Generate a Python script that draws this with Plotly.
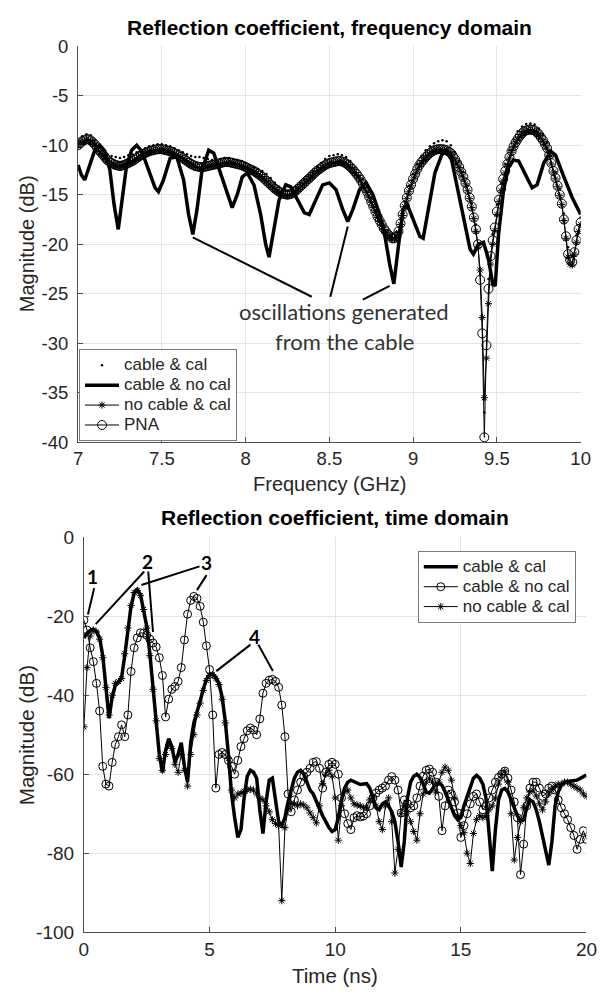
import numpy as np
import plotly.graph_objects as go

# ---------------- frequency domain (top panel) ----------------
# sweep grids (GHz): fine grid for the calibrated sweeps, coarse one for the dotted run
freq = np.round(np.linspace(7.0, 10.0, 241), 4)
freq_dots = np.round(np.linspace(7.0, 10.0, 121), 3)

fd_cable_cal = [
    -9.6, -9.1, -8.9, -9.0, -9.5, -10.0, -10.5, -10.9, -11.1, -11.2,
    -11.3, -11.2, -11.0, -10.9, -10.7, -10.5, -10.3, -10.1, -10.0, -9.9,
    -9.9, -10.0, -10.1, -10.3, -10.5, -10.7, -10.9, -11.1, -11.2, -11.2,
    -11.3, -11.4, -11.5, -11.5, -11.4, -11.3, -11.3, -11.4, -11.5, -11.6,
    -11.8, -12.0, -12.2, -12.4, -12.6, -12.9, -13.3, -13.8, -14.2, -14.5,
    -14.6, -14.5, -14.2, -13.8, -13.4, -13.0, -12.6, -12.2, -11.8, -11.4,
    -11.1, -11.0, -10.9, -11.0, -11.2, -11.6, -12.3, -13.1, -13.4, -14.8,
    -15.3, -16.6, -17.2, -18.1, -18.6, -19.0, -18.8, -17.5, -15.7, -14.1,
    -12.9, -11.9, -11.1, -10.5, -10.1, -9.8, -9.6, -9.5, -9.6, -10.0,
    -10.7, -11.6, -12.7, -14.1, -15.9, -18.0, -23.0, -37.0, -23.5, -19.0,
    -16.0, -13.8, -11.9, -10.5, -9.4, -8.6, -8.1, -7.85, -7.8, -7.9,
    -8.3, -8.9, -9.7, -11.1, -12.7, -14.4, -16.9, -20.3, -21.2, -19.1,
    -17.3,
]

fd_nocable_cal = [
    -10.1, -9.9, -9.7, -9.6, -9.5, -9.5, -9.6, -9.8, -10.0, -10.3,
    -10.6, -10.85, -11.1, -11.35, -11.6, -11.75, -11.9, -12.0, -12.1, -12.15,
    -12.2, -12.15, -12.1, -12.0, -11.9, -11.8, -11.7, -11.55, -11.4, -11.25,
    -11.1, -11.0, -10.9, -10.8, -10.7, -10.65, -10.6, -10.55, -10.5, -10.5,
    -10.5, -10.55, -10.6, -10.65, -10.7, -10.8, -10.9, -11.0, -11.1, -11.25,
    -11.4, -11.55, -11.7, -11.85, -12.0, -12.1, -12.2, -12.25, -12.3, -12.3,
    -12.3, -12.25, -12.2, -12.15, -12.1, -12.05, -12.0, -11.95, -11.9, -11.85,
    -11.8, -11.8, -11.8, -11.85, -11.9, -11.95, -12.0, -12.05, -12.1, -12.2,
    -12.3, -12.4, -12.5, -12.6, -12.7, -12.85, -13.0, -13.15, -13.3, -13.5,
    -13.7, -13.9, -14.1, -14.3, -14.5, -14.65, -14.8, -14.9, -15.0, -15.05,
    -15.1, -15.05, -15.0, -14.85, -14.7, -14.5, -14.3, -14.1, -13.9, -13.7,
    -13.5, -13.3, -13.1, -12.9, -12.7, -12.55, -12.4, -12.25, -12.1, -12.0,
    -11.9, -11.85, -11.8, -11.75, -11.7, -11.7, -11.75, -11.8, -11.95, -12.1,
    -12.3, -12.5, -12.75, -13.0, -13.3, -13.6, -14.0, -14.4, -14.8, -15.3,
    -15.8, -16.3, -16.8, -17.3, -17.7, -18.1, -18.5, -18.8, -19.1, -19.3,
    -19.5, -19.5, -19.3, -18.8, -18.0, -17.1, -16.2, -15.4, -14.7, -14.1,
    -13.5, -13.0, -12.5, -12.1, -11.8, -11.55, -11.3, -11.1, -10.9, -10.75,
    -10.6, -10.55, -10.5, -10.5, -10.5, -10.55, -10.6, -10.75, -10.9, -11.2,
    -11.5, -11.9, -12.3, -12.8, -13.3, -13.9, -14.6, -15.4, -16.3, -17.4,
    -18.7, -20.3, -22.6, -27.4, -35.5, -31.5, -26.0, -22.0, -20.0, -18.6,
    -17.0, -15.7, -14.6, -13.6, -12.8, -12.0, -11.3, -10.7, -10.2, -9.8,
    -9.45, -9.15, -8.9, -8.7, -8.6, -8.55, -8.5, -8.55, -8.6, -8.8,
    -9.0, -9.3, -9.6, -10.0, -10.4, -11.1, -11.9, -12.7, -13.4, -14.2,
    -15.1, -16.0, -17.6, -19.4, -21.3, -22.0, -22.1, -21.0, -19.8, -18.7,
    -18.0,
]

fd_pna = [
    -10.0, -9.8, -9.6, -9.5, -9.4, -9.4, -9.5, -9.7, -9.9, -10.2,
    -10.5, -10.75, -11.0, -11.25, -11.5, -11.65, -11.8, -11.9, -12.0, -12.05,
    -12.1, -12.05, -12.0, -11.9, -11.8, -11.7, -11.6, -11.45, -11.3, -11.15,
    -11.0, -10.9, -10.8, -10.7, -10.6, -10.55, -10.5, -10.45, -10.4, -10.4,
    -10.4, -10.45, -10.5, -10.55, -10.6, -10.7, -10.8, -10.9, -11.0, -11.15,
    -11.3, -11.45, -11.6, -11.75, -11.9, -12.0, -12.1, -12.15, -12.2, -12.2,
    -12.2, -12.15, -12.1, -12.05, -12.0, -11.95, -11.9, -11.85, -11.8, -11.75,
    -11.7, -11.7, -11.7, -11.75, -11.8, -11.85, -11.9, -11.95, -12.0, -12.1,
    -12.2, -12.3, -12.4, -12.5, -12.6, -12.75, -12.9, -13.05, -13.2, -13.4,
    -13.6, -13.8, -14.0, -14.2, -14.4, -14.55, -14.7, -14.8, -14.9, -14.95,
    -15.0, -14.95, -14.9, -14.75, -14.6, -14.4, -14.2, -14.0, -13.8, -13.6,
    -13.4, -13.2, -13.0, -12.8, -12.6, -12.45, -12.3, -12.15, -12.0, -11.9,
    -11.8, -11.75, -11.7, -11.65, -11.6, -11.6, -11.65, -11.7, -11.85, -12.0,
    -12.2, -12.4, -12.65, -12.9, -13.2, -13.5, -13.9, -14.3, -14.7, -15.2,
    -15.7, -16.2, -16.7, -17.2, -17.6, -18.0, -18.4, -18.7, -19.0, -19.2,
    -19.4, -19.4, -19.2, -18.7, -17.9, -17.0, -16.1, -15.3, -14.6, -14.0,
    -13.4, -12.9, -12.4, -12.0, -11.7, -11.45, -11.2, -11.0, -10.8, -10.65,
    -10.5, -10.45, -10.4, -10.4, -10.4, -10.45, -10.5, -10.65, -10.8, -11.1,
    -11.4, -11.8, -12.2, -12.7, -13.2, -13.8, -14.5, -15.3, -16.2, -17.3,
    -18.5, -20.0, -23.6, -29.0, -39.5, -30.2, -24.5, -21.2, -19.6, -18.3,
    -16.7, -15.5, -14.4, -13.4, -12.6, -11.9, -11.2, -10.6, -10.1, -9.7,
    -9.35, -9.05, -8.8, -8.6, -8.5, -8.45, -8.4, -8.45, -8.5, -8.7,
    -8.9, -9.2, -9.5, -9.9, -10.3, -11.0, -11.8, -12.6, -13.3, -14.1,
    -15.0, -15.9, -17.5, -19.2, -21.0, -21.6, -21.8, -20.8, -19.6, -18.5,
    -17.8,
]

# uncalibrated cable response, sampled at its turning points
f_nocal = [
    7.000, 7.020, 7.040, 7.070, 7.100, 7.130, 7.160, 7.190, 7.215, 7.240,
    7.265, 7.290, 7.320, 7.350, 7.380, 7.420, 7.460, 7.480, 7.510, 7.550,
    7.590, 7.630, 7.660, 7.685, 7.710, 7.740, 7.780, 7.810, 7.850, 7.890,
    7.920, 7.950, 7.980, 8.010, 8.050, 8.090, 8.120, 8.140, 8.165, 8.200,
    8.240, 8.270, 8.310, 8.350, 8.380, 8.420, 8.460, 8.500, 8.540, 8.580,
    8.610, 8.640, 8.680, 8.720, 8.760, 8.800, 8.830, 8.860, 8.885, 8.910,
    8.940, 8.965, 9.000, 9.040, 9.060, 9.090, 9.130, 9.170, 9.200, 9.230,
    9.260, 9.300, 9.340, 9.360, 9.390, 9.420, 9.450, 9.475, 9.490, 9.510,
    9.540, 9.570, 9.600, 9.630, 9.670, 9.710, 9.740, 9.780, 9.820, 9.850,
    9.900, 9.950, 10.000,
]
fd_cable_nocal = [
    -12.0, -13.0, -13.5, -12.0, -10.5, -10.0, -10.6, -12.5, -16.0, -18.5,
    -15.5, -12.0, -10.5, -10.0, -10.6, -12.5, -14.3, -14.7, -13.5, -11.3,
    -11.2, -13.5, -17.0, -19.0, -16.5, -12.5, -10.5, -10.8, -12.8, -15.0,
    -16.3, -15.0, -13.2, -12.8, -14.0, -17.0, -20.0, -21.3, -19.0, -15.5,
    -14.0, -14.2, -15.5, -16.8, -17.0, -15.5, -14.0, -13.8, -14.5, -16.5,
    -17.7, -16.5, -14.5, -13.8, -15.0, -17.0, -19.0, -22.0, -24.0, -20.5,
    -16.5, -16.0, -17.5, -19.2, -19.4, -16.5, -12.8, -11.0, -10.5, -11.5,
    -14.0, -17.5, -20.5, -21.0, -20.0, -19.8, -21.5, -24.0, -24.2, -19.0,
    -14.5, -12.2, -11.5, -11.6, -13.0, -14.3, -14.0, -11.8, -10.6, -11.0,
    -13.2, -15.3, -17.0,
]

# ---------------- time domain (bottom panel) ----------------
time_ns = np.round(np.linspace(0.0, 20.0, 161), 3)

td_cable_cal = [
    -25.5, -24.3, -23.6, -23.3, -23.8, -25.5, -30.0, -37.5, -45.8, -40.5,
    -37.5, -36.8, -35.5, -30.0, -23.5, -17.5, -14.2, -13.3, -14.5, -18.0,
    -22.5, -29.5, -38.0, -46.0, -55.0, -59.5, -54.0, -51.0, -53.0, -57.0,
    -55.0, -52.0, -58.0, -62.0, -52.0, -47.0, -44.5, -41.5, -38.5, -36.0,
    -34.8, -34.6, -35.5, -37.0, -40.5, -46.5, -55.0, -65.0, -71.0, -76.0,
    -74.0, -66.0, -60.5, -59.0, -59.5, -61.0, -69.0, -75.0, -67.0, -61.5,
    -61.0, -66.0, -72.0, -73.0, -71.0, -67.0, -63.5, -61.0, -59.5, -59.0,
    -60.0, -62.0, -64.0, -65.0, -67.0, -69.0, -70.5, -72.0, -73.5, -74.5,
    -74.0, -71.0, -66.5, -63.5, -62.0, -61.5, -61.8, -62.3, -62.6, -62.5,
    -62.4, -63.5, -66.0, -68.5, -69.0, -67.5, -67.0, -68.0, -69.5, -72.0,
    -77.0, -83.5, -77.0, -66.0, -62.0, -60.5, -60.0, -60.8, -62.5, -64.5,
    -64.8, -63.5, -62.5, -62.2, -62.8, -64.5, -66.5, -68.5, -70.5, -71.5,
    -71.0, -68.0, -65.5, -63.0, -61.0, -60.3, -61.0, -62.5, -66.0, -75.0,
    -84.5, -74.0, -66.5, -64.0, -63.6, -64.5, -66.5, -68.5, -70.5, -71.8,
    -71.5, -68.5, -66.5, -67.0, -69.0, -72.0, -76.0, -80.0, -83.0, -77.0,
    -68.0, -64.5, -62.8, -62.0, -61.8, -61.6, -61.6, -61.5, -61.0, -60.5,
    -60.2,
]

td_cable_nocal = [
    -21.0, -23.5, -28.0, -31.5, -37.0, -44.0, -58.0, -62.5, -63.0, -57.0,
    -52.5, -50.5, -47.5, -50.5, -45.0, -34.0, -28.0, -25.5, -24.2, -24.3,
    -24.8, -25.8, -26.8, -27.8, -30.5, -35.0, -45.5, -41.0, -38.5, -37.8,
    -36.5, -33.0, -26.0, -19.5, -16.0, -15.0, -15.5, -17.5, -21.5, -27.5,
    -33.5, -45.0, -63.5, -55.0, -54.5, -55.0, -56.5, -58.0, -60.0, -56.5,
    -53.0, -51.0, -49.0, -48.3, -48.8, -50.0, -46.0, -39.5, -37.0, -36.2,
    -36.0, -36.5, -38.0, -42.5, -50.5, -65.0, -69.5, -66.5, -64.0, -62.0,
    -60.5, -59.5, -58.5, -57.0, -56.8, -58.5, -63.5, -59.5, -57.5, -57.0,
    -57.5, -60.0, -66.0, -70.0, -72.5, -74.0, -71.0, -70.5, -70.8, -70.6,
    -70.0, -68.0, -66.0, -64.8, -64.0, -63.5, -63.0, -61.5, -60.6, -61.5,
    -64.0, -69.8, -66.5, -67.5, -68.5, -68.0, -66.0, -63.0, -60.5, -59.0,
    -58.7, -59.5, -62.0, -65.6, -74.3, -68.0, -64.0, -65.0, -67.0, -69.8,
    -76.0, -73.0, -70.0, -67.5, -65.6, -65.0, -67.0, -69.0, -68.0, -66.0,
    -64.0, -62.0, -60.8, -60.0, -59.2, -61.0, -64.0, -67.0, -71.0, -85.4,
    -77.7, -68.0, -63.5, -62.0, -62.0, -63.5, -65.6, -65.0, -63.5, -63.0,
    -64.0, -66.5, -68.5, -70.0, -71.5, -73.5, -75.5, -79.0, -76.5, -74.3,
    -76.5,
]

td_nocable_cal = [
    -48.0, -33.0, -25.0, -23.5, -24.0, -25.8, -30.5, -38.0, -45.0, -40.0,
    -37.0, -36.5, -35.8, -29.5, -23.0, -17.3, -14.0, -13.5, -14.8, -18.3,
    -23.0, -30.0, -38.5, -46.5, -56.0, -59.0, -55.0, -52.5, -53.5, -57.5,
    -59.5, -55.0, -59.0, -63.0, -55.0, -50.0, -45.0, -42.0, -38.8, -36.3,
    -35.0, -34.8, -35.8, -37.3, -41.0, -47.0, -56.0, -64.0, -66.0, -65.0,
    -64.8, -64.3, -64.0, -63.8, -64.0, -65.0, -66.0, -66.5, -68.0, -69.5,
    -71.5, -72.5, -73.0, -92.0, -73.5, -69.0, -67.3, -67.5, -68.0, -67.5,
    -67.8, -68.5, -69.8, -71.0, -72.3, -68.0, -62.4, -60.0, -59.0, -60.5,
    -66.0, -76.7, -68.0, -64.5, -64.0, -66.0, -67.5, -67.8, -68.0, -68.5,
    -68.5, -66.5, -65.5, -68.0, -72.0, -74.0, -68.0, -66.0, -72.0, -85.0,
    -79.0, -70.0, -68.0, -69.5, -72.0, -74.5, -76.7, -70.0, -65.0, -62.0,
    -61.0, -62.0, -64.5, -62.0, -59.5, -58.2, -59.0, -61.5, -66.0, -70.5,
    -73.0, -74.8, -80.0, -82.6, -75.0, -71.5, -70.5, -71.0, -70.5, -69.0,
    -68.0, -66.0, -62.5, -60.0, -59.2, -62.0, -70.0, -81.7, -76.0, -72.0,
    -68.5, -66.0, -64.5, -64.0, -65.5, -67.5, -69.0, -67.0, -65.0, -64.0,
    -63.0, -62.5, -62.5, -62.0, -62.0, -62.5, -63.0, -63.5, -64.0, -65.0,
    -65.6,
]

# ---------------- styling ----------------
W, H = 616, 1000
AX_FONT = "Liberation Sans, Arial, Helvetica, sans-serif"
NOTE_FONT = "Lato, Open Sans, sans-serif"
INK = "#262626"
GRID = "#e5e5e5"
AXLINE = "#4d4d4d"


def px(x):
    return x / W


def py(y):
    return 1 - y / H


def entry(label):
    # legend rows stay compact; the label itself is drawn larger
    return '<span style="font-size:17px">' + label + "</span>"


thin = dict(color="black", width=1)
circle = dict(symbol="circle-open", size=9, color="black", line=dict(color="black", width=1))
star = dict(symbol="asterisk-open", size=6, color="black", line=dict(color="black", width=1))

fig = go.Figure()

fig.add_trace(go.Scatter(
    x=freq_dots, y=fd_cable_cal, mode="markers", name=entry("cable & cal"),
    marker=dict(symbol="circle", size=2.5, color="black"),
    xaxis="x", yaxis="y", legend="legend"))
fig.add_trace(go.Scatter(
    x=f_nocal, y=fd_cable_nocal, mode="lines", name=entry("cable & no cal"),
    line=dict(color="black", width=3.5),
    xaxis="x", yaxis="y", legend="legend"))
fig.add_trace(go.Scatter(
    x=freq, y=fd_nocable_cal, mode="lines+markers", name=entry("no cable & cal"),
    line=thin, marker=star, xaxis="x", yaxis="y", legend="legend"))
fig.add_trace(go.Scatter(
    x=freq, y=fd_pna, mode="lines+markers", name=entry("PNA"),
    line=thin, marker=circle, xaxis="x", yaxis="y", legend="legend"))

fig.add_trace(go.Scatter(
    x=time_ns, y=td_cable_cal, mode="lines", name=entry("cable & cal"),
    line=dict(color="black", width=3.5),
    xaxis="x2", yaxis="y2", legend="legend2"))
fig.add_trace(go.Scatter(
    x=time_ns, y=td_cable_nocal, mode="lines+markers", name=entry("cable & no cal"),
    line=thin, marker=dict(circle, size=8), xaxis="x2", yaxis="y2", legend="legend2"))
fig.add_trace(go.Scatter(
    x=time_ns, y=td_nocable_cal, mode="lines+markers", name=entry("no cable & cal"),
    line=thin, marker=star, xaxis="x2", yaxis="y2", legend="legend2"))

axis_common = dict(
    showgrid=True, gridcolor=GRID, gridwidth=1, zeroline=False,
    showline=True, linecolor=AXLINE, linewidth=1, mirror=False,
    ticks="inside", ticklen=5, tickcolor=AXLINE, tickwidth=1,
)
top_tick = dict(family=AX_FONT, size=18.5, color=INK)
bot_tick = dict(family=AX_FONT, size=19, color=INK)

legend_common = dict(
    bgcolor="white", bordercolor="#7a7a7a", borderwidth=1,
    font=dict(family=AX_FONT, size=13, color=INK),
    tracegroupgap=0, itemwidth=34,
)

fig.update_layout(
    width=W, height=H,
    margin=dict(l=0, r=0, t=0, b=0),
    paper_bgcolor="white", plot_bgcolor="white",
    font=dict(family=AX_FONT, size=17, color=INK),
    xaxis=dict(axis_common, tickfont=top_tick, domain=[px(75), px(591)], anchor="y",
               range=[7, 10], tickvals=[7, 7.5, 8, 8.5, 9, 9.5, 10],
               ticktext=["7", "7.5", "8", "8.5", "9", "9.5", "10"],
               ticklabelstandoff=0),
    yaxis=dict(axis_common, tickfont=top_tick, domain=[py(441), py(36)], anchor="x",
               range=[-40, 0],
               tickvals=[0, -5, -10, -15, -20, -25, -30, -35, -40],
               ticktext=["0", "-5", "-10", "-15", "-20", "-25", "-30", "-35", "-40"],
               ticklabelstandoff=5),
    xaxis2=dict(axis_common, tickfont=bot_tick, domain=[px(81), px(597)], anchor="y2",
                range=[0, 20], tickvals=[0, 5, 10, 15, 20],
                ticktext=["0", "5", "10", "15", "20"],
                ticklabelstandoff=0),
    yaxis2=dict(axis_common, tickfont=bot_tick, domain=[py(942), py(538)], anchor="x2",
                range=[-100, 0], tickvals=[0, -20, -40, -60, -80, -100],
                ticktext=["0", "-20", "-40", "-60", "-80", "-100"],
                ticklabelstandoff=5),
    legend=dict(legend_common, x=px(76), y=py(440), xanchor="left", yanchor="bottom"),
    legend2=dict(legend_common, x=px(586), y=py(552), xanchor="right", yanchor="top"),
    showlegend=True,
)

annotations = [
    dict(text="<b>Reflection coefficient, frequency domain</b>", x=px(333), y=py(17),
         font=dict(family=AX_FONT, size=21, color="black")),
    dict(text="<b>Reflection coefficient, time domain</b>", x=px(339), y=py(518),
         font=dict(family=AX_FONT, size=21, color="black")),
    dict(text="Frequency (GHz)", x=px(333), y=py(484), font=dict(family=AX_FONT, size=20, color=INK)),
    dict(text="Time (ns)", x=px(339), y=py(986), font=dict(family=AX_FONT, size=20.5, color=INK)),
    dict(text="Magnitude (dB)", x=px(22), y=py(238), textangle=-90,
         font=dict(family=AX_FONT, size=20, color=INK)),
    dict(text="Magnitude (dB)", x=px(22), y=py(740), textangle=-90,
         font=dict(family=AX_FONT, size=20.5, color=INK)),
    dict(text="oscillations generated", x=px(348), y=py(307),
         font=dict(family=NOTE_FONT, size=22, color="#333333")),
    dict(text="from the cable", x=px(349), y=py(338),
         font=dict(family=NOTE_FONT, size=22, color="#333333")),
    dict(text="<b>1</b>", x=px(90), y=py(578), font=dict(family=NOTE_FONT, size=19, color="black")),
    dict(text="<b>2</b>", x=px(146), y=py(563), font=dict(family=NOTE_FONT, size=19, color="black")),
    dict(text="<b>3</b>", x=px(207), y=py(564), font=dict(family=NOTE_FONT, size=19, color="black")),
    dict(text="<b>4</b>", x=px(256), y=py(640), font=dict(family=NOTE_FONT, size=19, color="black")),
]
for a in annotations:
    a.update(xref="paper", yref="paper", showarrow=False, xanchor="center", yanchor="middle")
fig.update_layout(annotations=annotations)

# pointer lines: (x0, y0, x1, y1) in data units of each panel
top_pointers = [
    (7.685, -19.3, 8.395, -25.3),
    (8.610, -18.2, 8.506, -25.3),
    (8.860, -24.2, 8.700, -25.6),
]
bottom_pointers = [
    (0.41, -12.9, 0.16, -19.6),
    (2.40, -8.7, 0.47, -22.0),
    (2.56, -8.7, 2.75, -24.0),
    (4.60, -7.4, 2.29, -12.1),
    (4.88, -9.6, 4.50, -13.4),
    (6.63, -27.2, 5.27, -33.9),
    (6.94, -27.2, 7.52, -33.9),
]
shapes = []
for x0, y0, x1, y1 in top_pointers:
    shapes.append(dict(type="line", xref="x", yref="y", x0=x0, y0=y0, x1=x1, y1=y1,
                       line=dict(color="black", width=2)))
for x0, y0, x1, y1 in bottom_pointers:
    shapes.append(dict(type="line", xref="x2", yref="y2", x0=x0, y0=y0, x1=x1, y1=y1,
                       line=dict(color="black", width=2)))
fig.update_layout(shapes=shapes)

fig.write_html("out.html")
